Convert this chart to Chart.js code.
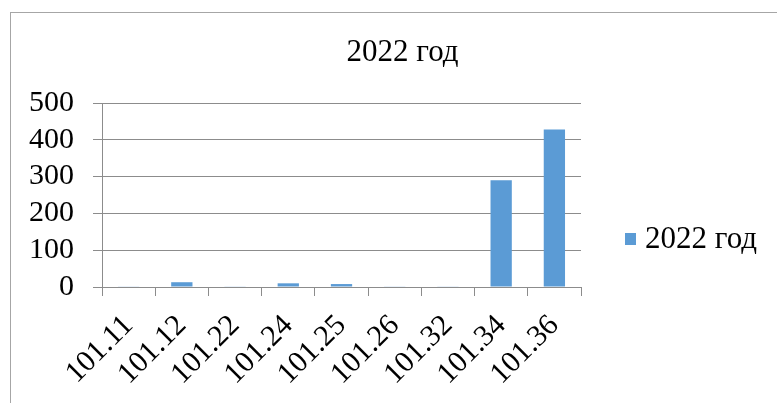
<!DOCTYPE html>
<html>
<head>
<meta charset="utf-8">
<script src="https://cdn.jsdelivr.net/npm/chart.js@4"></script>
<style>
  html, body { margin: 0; padding: 0; background: #ffffff; overflow: hidden; }
  #wrap { position: relative; width: 777px; height: 403px; }
  #frame { position: absolute; left: 10px; top: 12px; width: 800px; height: 420px; border: 1px solid #a6a6a6; box-sizing: border-box; }
  #c { position: absolute; left: 0; top: 0; }
</style>
</head>
<body>
<div id="wrap">
  <div id="frame"></div>
  <canvas id="c" width="777" height="403"></canvas>
</div>
<script>
// Account codes and 2022 amounts
const categories = ['101.11', '101.12', '101.22', '101.24', '101.25', '101.26', '101.32', '101.34', '101.36'];
const values2022 = [1, 13, 1, 10, 8, 1, 1, 290, 428];
const yTicks = [0, 100, 200, 300, 400, 500];
const seriesName = '2022 год';
const chartTitle = '2022 год';

const FONT = "'Liberation Serif', 'Times New Roman', serif";
const TICK_SIZE = 30;
const TITLE_SIZE = 31;
const GRID = '#8c8c8c';
const BAR = '#5b9bd5';

// Title centred over the whole framed area
const frameTitle = {
  id: 'frameTitle',
  afterDraw(chart) {
    const { ctx } = chart;
    ctx.save();
    ctx.fillStyle = '#000';
    ctx.font = TITLE_SIZE + 'px ' + FONT;
    ctx.textAlign = 'center';
    ctx.textBaseline = 'alphabetic';
    ctx.fillText(chartTitle, chart.width / 2 + 14, 61);
    ctx.restore();
  }
};

// Legend drawn beside the plot
const sideLegend = {
  id: 'sideLegend',
  afterDraw(chart) {
    const { ctx, chartArea } = chart;
    const ds = chart.data.datasets[0];
    const x0 = chartArea.right + 44;
    const yc = chartArea.bottom - 48;
    ctx.save();
    ctx.fillStyle = ds.backgroundColor;
    ctx.fillRect(x0, yc - 6, 11, 12);
    ctx.fillStyle = '#000';
    ctx.font = TITLE_SIZE + 'px ' + FONT;
    ctx.textBaseline = 'alphabetic';
    ctx.textAlign = 'left';
    ctx.fillText(ds.label, x0 + 20, yc + 9);
    ctx.restore();
  }
};

new Chart(document.getElementById('c'), {
  type: 'bar',
  data: {
    labels: categories,
    datasets: [{
      label: seriesName,
      data: values2022,
      backgroundColor: BAR,
      borderWidth: 0,
      barPercentage: 0.4,
      categoryPercentage: 1.0
    }]
  },
  options: {
    responsive: false,
    animation: false,
    devicePixelRatio: 1,
    layout: { padding: { left: 10, right: 196, top: 103, bottom: 0 } },
    plugins: {
      legend: { display: false },
      tooltip: { enabled: false },
      title: { display: false }
    },
    scales: {
      x: {
        grid: { display: true, drawOnChartArea: false, offset: true, color: GRID, tickLength: 9, tickColor: GRID },
        border: { display: true, color: GRID, width: 1 },
        ticks: {
          color: '#000',
          font: { family: FONT, size: TICK_SIZE },
          minRotation: 45,
          maxRotation: 45,
          padding: 12,
          autoSkip: false
        },
        afterFit(scale) { scale.height = 116; }
      },
      y: {
        min: 0,
        max: 500,
        afterBuildTicks(scale) { scale.ticks = yTicks.map(v => ({ value: v })); },
        grid: { color: GRID, tickLength: 9, tickColor: GRID },
        border: { display: true, color: GRID, width: 1 },
        ticks: {
          color: '#000',
          font: { family: FONT, size: TICK_SIZE },
          padding: 19,
          autoSkip: false
        },
        afterFit(scale) { scale.width = 92; }
      }
    }
  },
  plugins: [frameTitle, sideLegend]
});
</script>
</body>
</html>
